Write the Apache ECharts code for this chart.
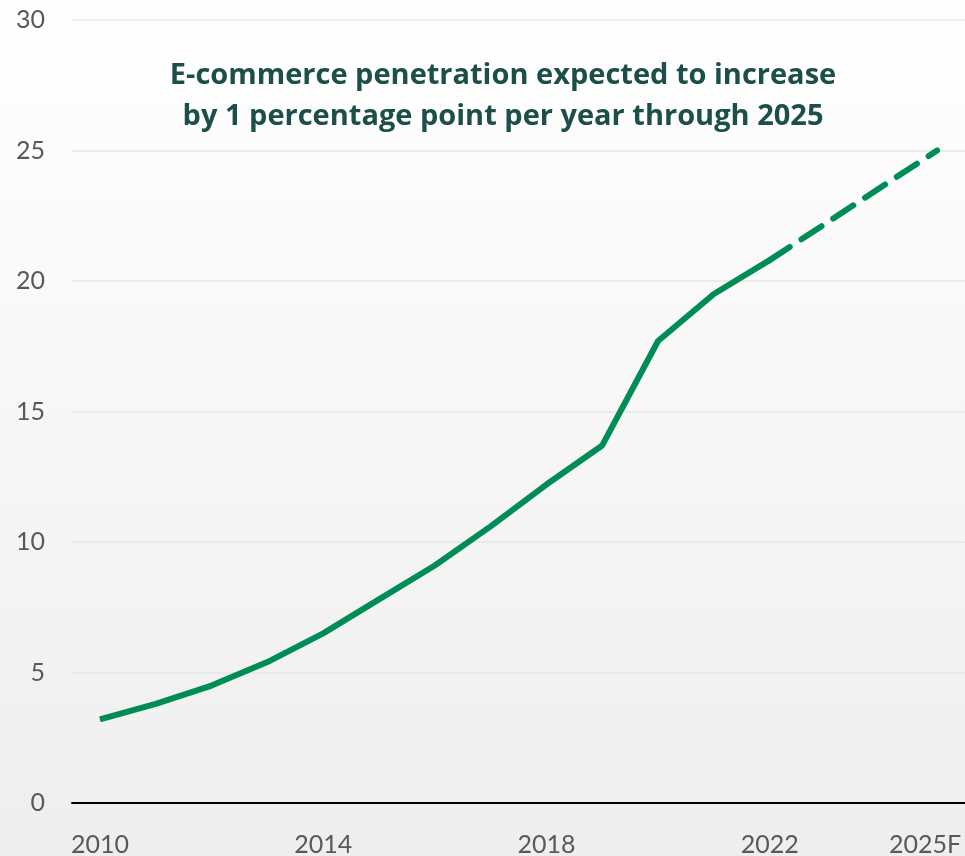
<!DOCTYPE html>
<html>
<head>
<meta charset="utf-8">
<script src="https://cdn.jsdelivr.net/npm/echarts@6/dist/echarts.min.js"></script>
<style>
  html, body { margin: 0; padding: 0; overflow: hidden; }
  #main { width: 965px; height: 856px; }
</style>
</head>
<body>
<div id="main"></div>
<script>
// years on the x axis
var years = ['2010', '2011', '2012', '2013', '2014', '2015', '2016', '2017',
  '2018', '2019', '2020', '2021', '2022', '2023', '2024', '2025F']
// actual penetration (%)
var actual = [3.2, 3.8, 4.5, 5.4, 6.5, 7.8, 9.1, 10.6, 12.2, 13.7, 17.7, 19.5, 20.8,
  null, null, null]
// forecast (%)
var forecast = [null, null, null, null, null, null, null, null, null, null, null, null,
  20.8, 22.2, 23.6, 25]
var titleLines = ['E-commerce penetration expected to increase',
  'by 1 percentage point per year through 2025']

var labelFont = 'Lato, "Open Sans", sans-serif'
var green = '#008c55'

var chart = echarts.init(document.getElementById('main'))
chart.setOption({
  animation: false,
  backgroundColor: {
    type: 'linear', x: 0, y: 0, x2: 0, y2: 1,
    colorStops: [
      { offset: 0, color: '#ffffff' },
      { offset: 1, color: '#eeeeee' }
    ]
  },
  title: {
    text: titleLines.join('\n'),
    left: 498,
    top: 50,
    textAlign: 'center',
    textStyle: {
      fontFamily: '"Open Sans", sans-serif',
      fontWeight: 'bold',
      fontSize: 29,
      lineHeight: 41,
      color: '#1d4f4a'
    }
  },
  grid: {
    left: 72,
    right: 0,
    top: 20,
    bottom: 53,
    outerBoundsMode: 'none'
  },
  xAxis: {
    type: 'category',
    data: years,
    boundaryGap: true,
    axisLine: { lineStyle: { color: '#000', width: 2 } },
    axisTick: { show: false },
    axisLabel: {
      interval: function (i) { return i % 4 === 0 || i === years.length - 1 },
      formatter: function (v, i) {
        // last label sits a little left so it stays inside the frame
        return i === years.length - 1 ? '{last|' + v + '}' : v
      },
      rich: {
        last: {
          color: '#595959',
          fontFamily: labelFont,
          fontSize: 25,
          padding: [0, 24, 0, 0]
        }
      },
      color: '#595959',
      fontFamily: labelFont,
      fontSize: 25,
      margin: 29
    }
  },
  yAxis: {
    type: 'value',
    min: 0,
    max: 30,
    interval: 5,
    axisLine: { show: false },
    axisTick: { show: false },
    splitLine: { lineStyle: { color: '#e6e6e6', width: 1.5 } },
    axisLabel: {
      color: '#595959',
      fontFamily: labelFont,
      fontSize: 25,
      margin: 27
    }
  },
  series: [
    {
      type: 'line',
      data: actual,
      symbol: 'none',
      lineStyle: { color: green, width: 6, join: 'round' }
    },
    {
      type: 'line',
      data: forecast,
      symbol: 'none',
      lineStyle: { color: green, width: 6, type: [24, 14], cap: 'round' }
    }
  ]
})
</script>
</body>
</html>
